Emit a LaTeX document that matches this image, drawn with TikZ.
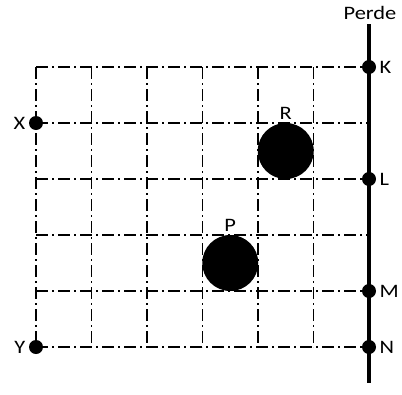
\documentclass[tikz,border=0pt]{standalone}
\usepackage{fontspec}
\setmainfont[FakeStretch=1.18]{Carlito}
\usetikzlibrary{positioning}

\begin{document}
\begin{tikzpicture}[
    x=1pt, y=-1pt,
    font=\fontsize{19}{22}\selectfont,
    gridline/.style={line width=1.6pt, dash pattern=on 12pt off 4pt on 2pt off 4pt},
    perde/.style={line width=3.3pt},
    dot/.style={circle, fill, inner sep=0pt, minimum size=14pt, label distance=0pt},
    ball/.style={circle, fill, inner sep=0pt, minimum size=56pt, label distance=0pt}
  ]
  \useasboundingbox (0,0) rectangle (402,394);

  % grid corners, left and right
  \foreach \i in {0,...,5} {
    \coordinate (l\i) at (36,{67+56*\i});
    \coordinate (r\i) at (369,{67+56*\i});
  }
  \foreach \j in {0,...,6} {
    \coordinate (t\j) at ({36+55.5*\j},67);
    \coordinate (b\j) at ({36+55.5*\j},347);
  }

  % grid
  \foreach \i in {0,...,5}
    \draw[gridline] (l\i) -- (r\i);
  \foreach \j in {0,...,5}
    \draw[gridline] (t\j) -- (b\j);

  % perde
  \coordinate (ptop) at (369,24);
  \coordinate (pbot) at (369,383);
  \draw[perde] (ptop) -- (pbot);
  \node (perdeLbl) at (370,13) {Perde};

  % points
  \node[dot, label=left:X] (X) at (l1) {};
  \node[dot, label=left:Y] (Y) at (l5) {};
  \node[dot, label=right:K] (K) at (r0) {};
  \node[dot, label=right:L] (L) at (r2) {};
  \node[dot, label=right:M] (M) at (r4) {};
  \node[dot, label=right:N] (N) at (r5) {};

  % bodies
  \node[ball, label=above:R] (R) at (285.75,151) {};
  \node[ball, label=above:P] (P) at (230.25,263) {};
\end{tikzpicture}
\end{document}
